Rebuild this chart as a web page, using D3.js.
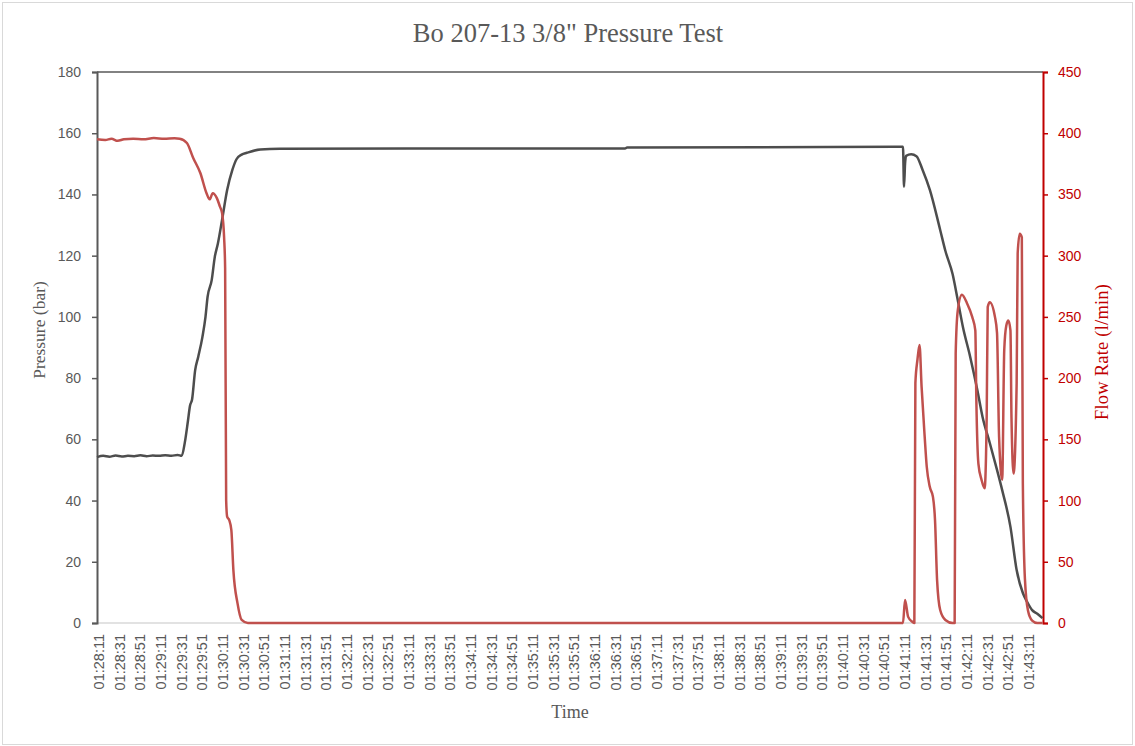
<!DOCTYPE html>
<html>
<head>
<meta charset="utf-8">
<script src="https://cdn.jsdelivr.net/npm/d3@7"></script>
<style>
  body { margin: 0; background: #fff; }
  svg text { fill: #595959; }
</style>
</head>
<body>
<div id="chart"></div>
<script>
// seconds after 01:28:11
const pressureSec = [0, 6, 12, 18, 24, 30, 36, 42, 48, 54, 60, 66, 72, 78, 82, 85, 88, 90, 92, 95, 98, 102, 105, 107, 111, 114, 117, 121, 126, 131, 135, 140, 145, 158, 177, 300, 511, 513, 780, 781, 782, 783, 788, 793, 799, 806, 816, 821, 828, 833, 838, 845, 852, 857, 864, 871, 876, 884, 890, 896, 900, 905, 910, 915];
const pressureBar = [54.2, 54.6, 54.3, 54.7, 54.4, 54.6, 54.5, 54.8, 54.5, 54.7, 54.6, 54.8, 54.6, 54.9, 54.6, 59, 66, 71, 73, 82.6, 87, 93.4, 100, 106.5, 112, 119.6, 124, 131.6, 141.5, 148, 151.5, 153, 153.6, 154.7, 154.9, 155.0, 155.0, 155.3, 155.6, 142.5, 150, 152.6, 153.1, 152.5, 148, 141.5, 128.4, 121.6, 114, 105.5, 96.7, 87, 76, 67.3, 58.8, 50, 43.4, 31.4, 17.3, 9.8, 7, 4.2, 3, 1.6];

const flowSec = [0, 8, 14, 20, 26, 35, 45, 55, 65, 75, 80, 87, 93, 100, 106, 109, 112, 116, 119, 121, 123, 124, 125, 126, 128, 130, 132, 136, 140, 146, 780, 782, 785, 789, 791, 792, 794, 796, 798, 801, 803, 806, 809, 811, 813, 816, 821, 828, 830, 831, 833, 837, 842, 847, 850, 851, 853, 856, 859, 861, 862, 864, 869, 871, 873, 876, 878, 880, 882, 884, 885, 887, 890, 891, 893, 895, 896, 898, 901, 905, 910, 915];
const flowLpm = [395, 394.5, 395.5, 393.8, 395, 395.5, 395, 396, 395.5, 395.8, 395.5, 392, 380, 367.5, 351, 346, 351, 347, 340, 335, 315, 290, 100, 86.6, 84, 76, 43, 16, 2.5, 0, 0, 18.8, 5, 1, 0, 196, 215, 227, 193, 152, 127.6, 111, 103, 84, 35, 10.6, 2.5, 0, 0, 220, 255, 268, 261, 250, 239, 182, 130, 117, 110, 168, 258, 262, 250, 237, 152, 117, 223, 243, 247, 239, 168, 122, 196, 302, 318, 315, 114, 36, 10, 2, 0, 0];

const timeLabels = ["01:28:11", "01:28:31", "01:28:51", "01:29:11", "01:29:31", "01:29:51", "01:30:11", "01:30:31", "01:30:51", "01:31:11", "01:31:31", "01:31:51", "01:32:11", "01:32:31", "01:32:51", "01:33:11", "01:33:31", "01:33:51", "01:34:11", "01:34:31", "01:34:51", "01:35:11", "01:35:31", "01:35:51", "01:36:11", "01:36:31", "01:36:51", "01:37:11", "01:37:31", "01:37:51", "01:38:11", "01:38:31", "01:38:51", "01:39:11", "01:39:31", "01:39:51", "01:40:11", "01:40:31", "01:40:51", "01:41:11", "01:41:31", "01:41:51", "01:42:11", "01:42:31", "01:42:51", "01:43:11"];
const pressureTicks = [0, 20, 40, 60, 80, 100, 120, 140, 160, 180];
const flowTicks = [0, 50, 100, 150, 200, 250, 300, 350, 400, 450];

const width = 1135, height = 746;
const margin = {top: 72, right: 92, bottom: 123, left: 97};

const toSec = s => {
    const p = s.split(':').map(Number);
    return p[0] * 3600 + p[1] * 60 + p[2];
};
const t0 = toSec(timeLabels[0]);

const svg = d3.select("#chart")
    .append("svg")
    .attr("width", width)
    .attr("height", height)
    .style("font-family", "'Liberation Sans', Arial, sans-serif");

// outer frame
svg.append("rect")
    .attr("x", 2.5).attr("y", 2.5)
    .attr("width", width - 5).attr("height", height - 4)
    .attr("fill", "none")
    .attr("stroke", "#d9d9d9");

const x = d3.scaleLinear()
    .domain([0, 915.5])
    .range([margin.left, width - margin.right]);

const yP = d3.scaleLinear()
    .domain([0, 180])
    .range([height - margin.bottom, margin.top]);

const yF = d3.scaleLinear()
    .domain([0, 450])
    .range([height - margin.bottom, margin.top]);

// bottom axis line + rotated time labels
svg.append("line")
    .attr("x1", x.range()[0]).attr("x2", x.range()[1])
    .attr("y1", yP(0)).attr("y2", yP(0))
    .attr("stroke", "#d9d9d9").attr("stroke-width", 1.5);

svg.append("g")
    .selectAll("text")
    .data(timeLabels)
    .join("text")
    .attr("transform", d => `translate(${x(toSec(d) - t0) + 2},${yP(0) + 11}) rotate(-90)`)
    .attr("text-anchor", "end")
    .attr("dy", "0.35em")
    .attr("font-size", 14.5)
    .text(d => d);

// top border of plot area
svg.append("line")
    .attr("x1", x.range()[0]).attr("x2", x.range()[1])
    .attr("y1", margin.top).attr("y2", margin.top)
    .attr("stroke", "#595959").attr("stroke-width", 1.5);

// left axis
const leftAxis = svg.append("g")
    .attr("transform", `translate(${margin.left},0)`)
    .call(d3.axisLeft(yP).tickValues(pressureTicks).tickSize(5).tickPadding(11));
leftAxis.select(".domain").attr("stroke", "#595959").attr("stroke-width", 2);
leftAxis.selectAll(".tick line").attr("stroke", "#595959").attr("stroke-width", 1.5);
leftAxis.selectAll(".tick text").attr("font-size", 14).attr("fill", "#595959")
    .attr("font-family", "'Liberation Sans', Arial, sans-serif");

// right axis
const rightAxis = svg.append("g")
    .attr("transform", `translate(${width - margin.right},0)`)
    .call(d3.axisRight(yF).tickValues(flowTicks).tickSize(5).tickPadding(10));
rightAxis.select(".domain").attr("stroke", "#c00000").attr("stroke-width", 2);
rightAxis.selectAll(".tick line").attr("stroke", "#c00000").attr("stroke-width", 1.5);
rightAxis.selectAll(".tick text").attr("font-size", 14).style("fill", "#c00000")
    .attr("font-family", "'Liberation Sans', Arial, sans-serif");

// series
const pressureData = pressureSec.map((s, i) => ({s: s, v: pressureBar[i]}));
const flowData = flowSec.map((s, i) => ({s: s, v: flowLpm[i]}));

svg.append("path")
    .datum(pressureData)
    .attr("fill", "none")
    .attr("stroke", "#4d4d4d")
    .attr("stroke-width", 2.5)
    .attr("stroke-linejoin", "round")
    .attr("d", d3.line().curve(d3.curveMonotoneX).x(d => x(d.s)).y(d => yP(d.v)));

svg.append("path")
    .datum(flowData)
    .attr("fill", "none")
    .attr("stroke", "#c0504d")
    .attr("stroke-width", 2.5)
    .attr("stroke-linejoin", "round")
    .attr("d", d3.line().curve(d3.curveMonotoneX).x(d => x(d.s)).y(d => yF(d.v)));

// titles
const serif = "'Palatino Linotype', 'Book Antiqua', Palatino, 'Liberation Serif', serif";

svg.append("text")
    .attr("x", 568).attr("y", 42)
    .attr("text-anchor", "middle")
    .attr("font-family", serif)
    .attr("font-size", 26.5)
    .text('Bo 207-13 3/8" Pressure Test');

svg.append("text")
    .attr("transform", "translate(45,330) rotate(-90)")
    .attr("text-anchor", "middle")
    .attr("font-family", serif)
    .attr("font-size", 17.5)
    .text("Pressure (bar)");

svg.append("text")
    .attr("transform", "translate(1108,352) rotate(-90)")
    .attr("text-anchor", "middle")
    .attr("font-family", serif)
    .attr("font-size", 18.5)
    .attr("textLength", 136)
    .style("fill", "#c00000")
    .text("Flow Rate (l/min)");

svg.append("text")
    .attr("x", 570).attr("y", 718)
    .attr("text-anchor", "middle")
    .attr("font-family", serif)
    .attr("font-size", 18)
    .text("Time");
</script>
</body>
</html>
